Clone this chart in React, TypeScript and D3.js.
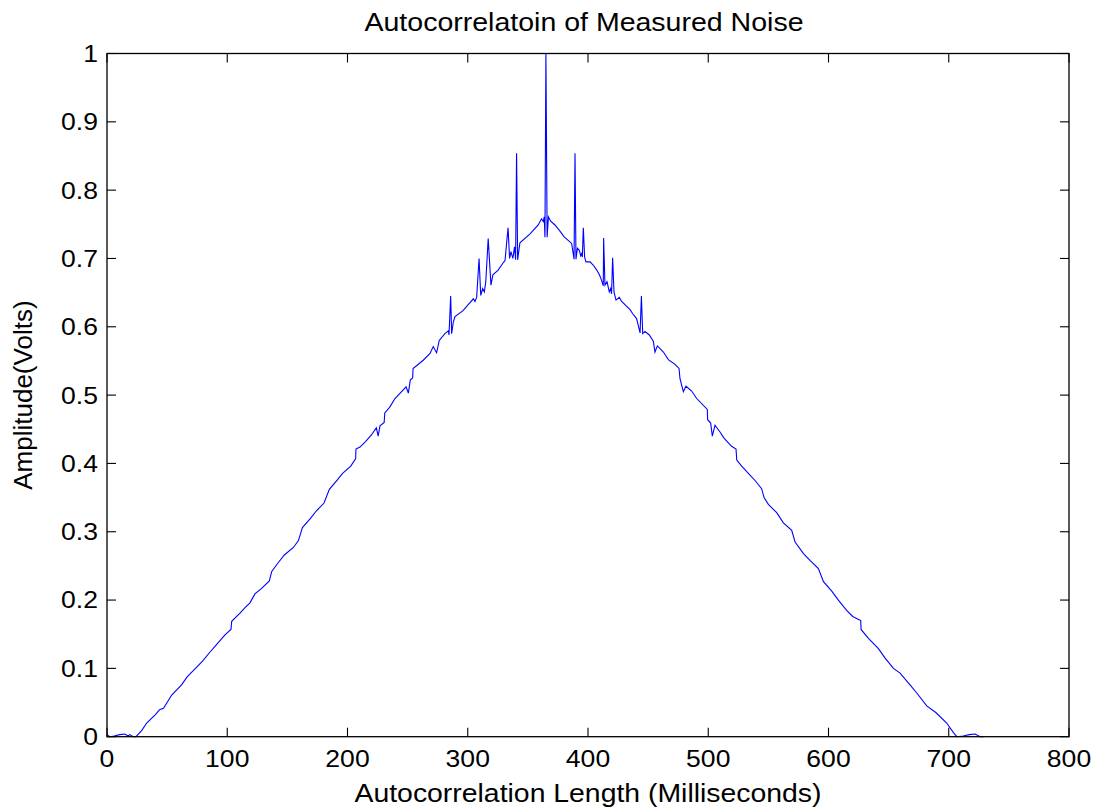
import React from "react";
import * as d3 from "d3";

// Lag (ms) and normalized autocorrelation amplitude
const lagMs: number[] = [
  0, 2.3, 6, 10.6, 14.8, 17.6, 19, 21.8, 24.1, 28.8, 33, 40, 44, 47, 49.6, 53.8, 62, 66.8, 74.6, 79.6,
  85.7, 90.7, 98.1, 103.1, 103.7, 110.6, 114.8, 118.9, 123, 128.6, 135, 137, 142.5, 147.5, 155, 159.2,
  162.5, 169.4, 173.8, 180.5, 184.9, 191.6, 195.7, 202.7, 206.8, 207, 210.4, 215, 220, 224, 225.5, 227,
  230.5, 231, 235, 239.5, 245, 248.7, 250.6, 252.2, 254.2, 254.5, 263, 268.6, 271.3, 274.1, 276.3, 281,
  283.9, 284.4, 285.8, 286.6, 288, 289.4, 296.3, 299.1, 304.7, 306, 307.4, 309.4, 310.8, 312.4, 313.8,
  315, 317, 319.3, 320.9, 325.3, 329.6, 331, 333.5, 334.8, 335.9, 337.5, 338.9, 339.8, 340.6, 341.5,
  343.4, 351.8, 358.6, 361.4, 362.8, 363.6, 364.2, 365, 366, 367.1, 368.8, 372.5, 376.7, 380, 386.4,
  388.4, 389.2, 390, 391.2, 392.8, 393.9, 394.7, 395.3, 396.1, 397.2, 398.3, 401.7, 404.5, 407.3, 409.5,
  411.3, 412.7, 413, 414.1, 415.8, 417.7, 418.8, 419.6, 420.5, 421.6, 423.3, 426, 428, 432.2, 435,
  437.2, 440.4, 441.8, 443.3, 444.4, 445.5, 447.4, 451, 454.3, 455.7, 457.7, 462.7, 466.8, 472.4, 475.7,
  476.5, 479.3, 481.5, 486.2, 490.4, 499.2, 499.5, 502, 503.4, 505.6, 509.8, 513.1, 519.4, 523.1, 523.7,
  527.8, 534.7, 538.9, 544.4, 546.4, 550, 556.9, 562.5, 569.4, 572.2, 579.2, 584.6, 591.6, 595.8, 602.7,
  608.2, 615.1, 620.1, 626.8, 627.1, 633.2, 641.5, 647.1, 654, 659.5, 667.8, 673.4, 681.7, 689.5, 698.3,
  703.9, 706.7, 712, 717, 722, 726, 729,
];

const amplitude: number[] = [
  0.003, 0, 0.001, 0.003, 0.004, 0.001, 0.003, 0, 0, 0.009, 0.02, 0.032, 0.04, 0.0415, 0.049, 0.061, 0.076, 0.088, 0.102, 0.111,
  0.124, 0.134, 0.149, 0.157, 0.169, 0.181, 0.189, 0.196, 0.209, 0.217, 0.228, 0.242, 0.255, 0.266, 0.277, 0.287,
  0.306, 0.32, 0.33, 0.342, 0.362, 0.376, 0.385, 0.396, 0.407, 0.421, 0.424, 0.432, 0.442, 0.452, 0.44, 0.455,
  0.46, 0.474, 0.482, 0.495, 0.505, 0.512, 0.503, 0.522, 0.525, 0.539, 0.551, 0.561, 0.571, 0.562, 0.58, 0.59,
  0.594, 0.588, 0.645, 0.59, 0.607, 0.615, 0.624, 0.63, 0.641, 0.637, 0.643, 0.7, 0.646, 0.656, 0.651,
  0.666, 0.729, 0.661, 0.676, 0.683, 0.694, 0.697, 0.745, 0.7, 0.71, 0.7, 0.717, 0.698, 0.854, 0.698,
  0.723, 0.736, 0.749, 0.758, 0.754, 0.761, 0.731, 1.0, 0.731, 0.761, 0.755, 0.749, 0.74, 0.732, 0.722,
  0.699, 0.854, 0.699, 0.715, 0.712, 0.704, 0.707, 0.702, 0.745, 0.702, 0.695, 0.695, 0.69, 0.683, 0.676,
  0.668, 0.66, 0.73, 0.661, 0.666, 0.651, 0.656, 0.648, 0.701, 0.651, 0.639, 0.643, 0.637, 0.63, 0.625,
  0.619, 0.612, 0.602, 0.591, 0.645, 0.59, 0.593, 0.588, 0.579, 0.563, 0.572, 0.563, 0.552, 0.545, 0.539,
  0.524, 0.505, 0.513, 0.506, 0.495, 0.479, 0.464, 0.459, 0.44, 0.456, 0.446, 0.437, 0.425, 0.421, 0.405,
  0.396, 0.383, 0.375, 0.363, 0.35, 0.34, 0.328, 0.313, 0.302, 0.285, 0.268, 0.258, 0.246, 0.227, 0.213,
  0.2, 0.185, 0.176, 0.17, 0.157, 0.144, 0.129, 0.115, 0.1, 0.093, 0.076, 0.064, 0.045, 0.035, 0.02,
  0.006, 0, 0.001, 0.003, 0.004, 0, 0,
];

const xTicks: number[] = [0, 100, 200, 300, 400, 500, 600, 700, 800];
const yTicks: number[] = [0, 0.1, 0.2, 0.3, 0.4, 0.5, 0.6, 0.7, 0.8, 0.9, 1];

const titleText = "Autocorrelatoin of Measured Noise";
const xLabelText = "Autocorrelation Length (Milliseconds)";
const yLabelText = "Amplitude(Volts)";

const W = 1099;
const H = 810;
const left = 107;
const right = 1069;
const top = 53.5;
const bottom = 736.7;
const tickLen = 9;
const font = "'Liberation Sans', Arial, Helvetica, sans-serif";

export default function App() {
  const x = d3.scaleLinear().domain([0, 800]).range([left, right]);
  const y = d3.scaleLinear().domain([0, 1]).range([bottom, top]);
  const pts: [number, number][] = lagMs.map((v, i) => [v, amplitude[i]]);
  const line = d3
    .line<[number, number]>()
    .x((d) => x(d[0]))
    .y((d) => y(d[1]));

  const cx = (left + right) / 2;
  const cy = (top + bottom) / 2;

  return (
    <svg
      width={W}
      height={H}
      style={{ position: "absolute", left: 0, top: 0, background: "#fff" }}
      fontFamily={font}
    >
      <rect x={0} y={0} width={W} height={H} fill="#fff" />
      <path d={line(pts) || ""} fill="none" stroke="#0000ff" strokeWidth={1.1} />
      <rect
        x={left}
        y={top}
        width={right - left}
        height={bottom - top}
        fill="none"
        stroke="#000"
        strokeWidth={1.3}
      />
      {xTicks.map((t) => (
        <g key={"xt" + t}>
          <line x1={x(t)} x2={x(t)} y1={bottom} y2={bottom - tickLen} stroke="#000" strokeWidth={1.1} />
          <line x1={x(t)} x2={x(t)} y1={top} y2={top + tickLen} stroke="#000" strokeWidth={1.1} />
          <text
            x={0}
            y={0}
            fontSize={23.5}
            textAnchor="middle"
            fill="#000"
            transform={`translate(${x(t)},${767.3}) scale(1.13,1)`}
          >
            {d3.format("")(t)}
          </text>
        </g>
      ))}
      {yTicks.map((t) => (
        <g key={"yt" + t}>
          <line x1={left} x2={left + tickLen} y1={y(t)} y2={y(t)} stroke="#000" strokeWidth={1.1} />
          <line x1={right} x2={right - tickLen} y1={y(t)} y2={y(t)} stroke="#000" strokeWidth={1.1} />
          <text
            x={0}
            y={0}
            fontSize={23.5}
            textAnchor="end"
            fill="#000"
            transform={`translate(${98},${y(t) + 8.4}) scale(1.13,1)`}
          >
            {d3.format("")(+t.toFixed(1))}
          </text>
        </g>
      ))}
      <text
        x={584}
        y={31}
        fontSize={26}
        textAnchor="middle"
        fill="#000"
        textLength={439}
        lengthAdjust="spacingAndGlyphs"
      >
        {titleText}
      </text>
      <text
        x={588}
        y={801.7}
        fontSize={26}
        textAnchor="middle"
        fill="#000"
        textLength={467}
        lengthAdjust="spacingAndGlyphs"
      >
        {xLabelText}
      </text>
      <text
        x={0}
        y={0}
        fontSize={26}
        textAnchor="middle"
        fill="#000"
        transform={`translate(${32},${cy}) rotate(-90)`}
      >
        {yLabelText}
      </text>
    </svg>
  );
}
